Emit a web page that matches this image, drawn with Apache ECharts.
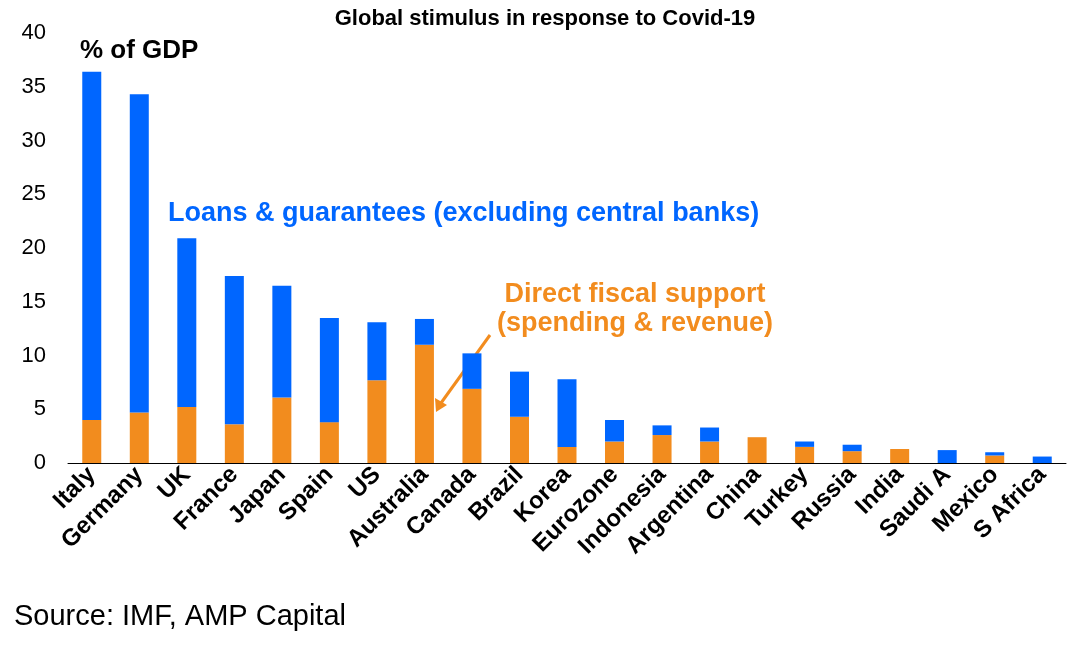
<!DOCTYPE html>
<html><head><meta charset="utf-8">
<script src="https://cdn.jsdelivr.net/npm/echarts@6/dist/echarts.min.js"></script>
<style>html,body{margin:0;padding:0;background:#fff}#c{width:1090px;height:648px}</style>
</head><body><div id="c"></div>
<script>
// countries, sorted by total stimulus
var countries = ['Italy','Germany','UK','France','Japan','Spain','US','Australia','Canada','Brazil','Korea','Eurozone','Indonesia','Argentina','China','Turkey','Russia','India','Saudi A','Mexico','S Africa']
// direct fiscal support (% of GDP)
var direct = [4.0,4.7,5.2,3.6,6.1,3.8,7.7,11.0,6.9,4.3,1.5,2.0,2.6,2.0,2.4,1.5,1.1,1.3,0.0,0.7,0.0]
// loans & guarantees (% of GDP)
var loans = [32.4,29.6,15.7,13.8,10.4,9.7,5.4,2.4,3.3,4.2,6.3,2.0,0.9,1.3,0.0,0.5,0.6,0.0,1.2,0.3,0.6]
var yTicks = [0,5,10,15,20,25,30,35,40]

var blue = '#0066FF', orange = '#F28C1E'
var chart = echarts.init(document.getElementById('c'))
chart.setOption({
  animation: false,
  title: {text: 'Global stimulus in response to Covid-19', left: 'center', top: 3,
    textStyle: {fontFamily: 'Liberation Sans', fontWeight: 'bold', fontSize: 22, color: '#000'}},
  grid: {left: 68, right: 24, top: 33, bottom: 185},
  xAxis: {type: 'category', data: countries,
    axisLine: {lineStyle: {color: '#000'}}, axisTick: {show: false},
    axisLabel: {rotate: 45, interval: 0, fontFamily: 'Liberation Sans', fontWeight: 'bold', fontSize: 24, color: '#000', margin: 8}},
  yAxis: {type: 'value', min: 0, max: 40, interval: 5,
    axisLine: {show: false}, axisTick: {show: false}, splitLine: {show: false},
    axisLabel: {fontFamily: 'Liberation Sans', fontSize: 22, color: '#000', margin: 22,
      formatter: function (v) { return yTicks.indexOf(v) >= 0 ? v : '' }}},
  series: [
    {type: 'bar', stack: 's', data: direct, barWidth: 19, itemStyle: {color: orange}},
    {type: 'bar', stack: 's', data: loans, barWidth: 19, itemStyle: {color: blue}}
  ],
  graphic: [
    {type: 'text', left: 80, top: 38, style: {text: '% of GDP', font: 'bold 26px "Liberation Sans"', fill: '#000'}},
    {type: 'text', left: 168, top: 200, style: {text: 'Loans & guarantees (excluding central banks)', font: 'bold 27px "Liberation Sans"', fill: blue}},
    {type: 'text', x: 635, y: 280, style: {text: 'Direct fiscal support\n(spending & revenue)', font: 'bold 27px "Liberation Sans"', fill: orange, align: 'center', lineHeight: 29}},
    {type: 'line', shape: {x1: 490, y1: 335, x2: 441, y2: 403}, style: {stroke: orange, lineWidth: 3}},
    {type: 'polygon', shape: {points: [[436, 412], [435, 398], [447, 405]]}, style: {fill: orange}},
    {type: 'text', left: 14, top: 602, style: {text: 'Source: IMF, AMP Capital', font: '29px "Liberation Sans"', fill: '#000'}}
  ]
})
</script></body></html>
